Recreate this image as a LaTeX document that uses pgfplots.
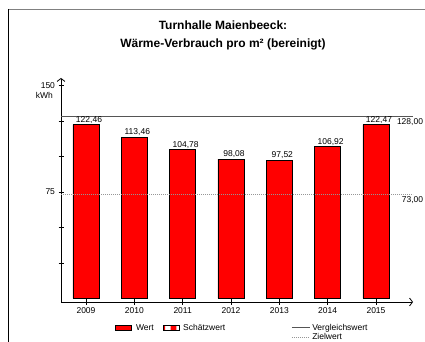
\documentclass[border=0pt]{standalone}
\usepackage{fontspec}
\setmainfont{Liberation Sans}
\usepackage{pgfplots}
\pgfplotsset{compat=1.18}
\usetikzlibrary{patterns,arrows.meta}

\definecolor{vglgray}{RGB}{85,85,85}
\definecolor{zielgray}{RGB}{150,150,150}
\newcommand{\lbl}{\fontsize{8.5}{10}\selectfont}
\pgfplotsset{
  boxlegend/.style={legend image code/.code={\draw[##1] (0pt,-2.5pt) rectangle (16pt,2.5pt);}},
  dashlegend/.style={legend image code/.code={\draw[##1] (0pt,0pt) -- (18pt,0pt);}},
}

\begin{document}
\begin{tikzpicture}[x=1pt,y=1pt]
\useasboundingbox (0,0) rectangle (425,342);
% frame (cut off at right and bottom)
\draw[gray,line width=0.8pt] (8,333) -- (425,333);
\draw[black,line width=0.8pt] (8,333) -- (8,0);
\node[font=\bfseries\fontsize{12}{18}\selectfont, align=center] at (223,307)
  {Turnhalle Maienbeeck:\\Wärme-Verbrauch pro m² (bereinigt)};
\node[anchor=east, font=\lbl, inner sep=0pt] at (53,247) {kWh};

\begin{axis}[
  at={(61pt,40pt)}, anchor=south west,
  scale only axis, width=352pt, height=224pt,
  xmin=-0.517, xmax=6.766, ymin=-2.5, ymax=155.3,
  clip=false,
  axis lines=left,
  x axis line style={line width=0.8pt,-{Straight Barb[length=3pt,width=8pt]}},
  y axis line style={line width=0.8pt,-{Straight Barb[length=3pt,width=8pt]}},
  tick align=center, major tick length=5pt,
  tick style={black, line width=0.7pt},
  xtick={0,...,6}, xticklabels={2009,2010,2011,2012,2013,2014,2015},
  ytick={25,50,...,150}, yticklabels={,,75,,,150},
  tick label style={font=\lbl},
  /pgf/number format/assume math mode=true,
  legend columns=3, legend cell align=left,
  legend style={at={(0.145,-0.08)}, anchor=north west, draw=none, fill=none,
    font=\lbl, row sep=-2pt,
    /tikz/column 1/.style={column sep=2pt},
    /tikz/column 2/.style={column sep=7pt},
    /tikz/column 3/.style={column sep=2pt},
    /tikz/column 4/.style={column sep=64pt},
    /tikz/column 5/.style={column sep=0pt}},
]
\addplot[ybar, bar width=26pt, fill=red, draw=black, line width=0.8pt,
  nodes near coords={\pgfmathprintnumber[fixed,fixed zerofill,precision=2,use comma]{\pgfplotspointmeta}},
  every node near coord/.append style={font=\lbl, anchor=south, xshift=3pt, inner sep=1pt},
  boxlegend]
  coordinates {(0,122.46) (1,113.46) (2,104.78) (3,98.08) (4,97.52) (5,106.92) (6,122.47)};
\addlegendentry{Wert}
\addlegendimage{draw=black, pattern=checkerboard, pattern color=red, boxlegend}
\addlegendentry{Schätzwert}
\addplot[vglgray, line width=1pt, dashlegend]
  coordinates {(-0.517,128) (6.766,128)}
  node[pos=1, anchor=north east, xshift=11.5pt, inner sep=1pt, font=\lbl, text=black] {128,00};
\addlegendentry{Vergleichswert}
\addlegendimage{empty legend}\addlegendentry{}
\addlegendimage{empty legend}\addlegendentry{}
\addplot[zielgray, line width=0.7pt, dash pattern=on 1pt off 1pt, dashlegend]
  coordinates {(-0.517,73) (6.766,73)}
  node[pos=1, anchor=north east, xshift=11.5pt, inner sep=1pt, font=\lbl, text=black] {73,00};
\addlegendentry{Zielwert}
\end{axis}
\end{tikzpicture}
\end{document}
